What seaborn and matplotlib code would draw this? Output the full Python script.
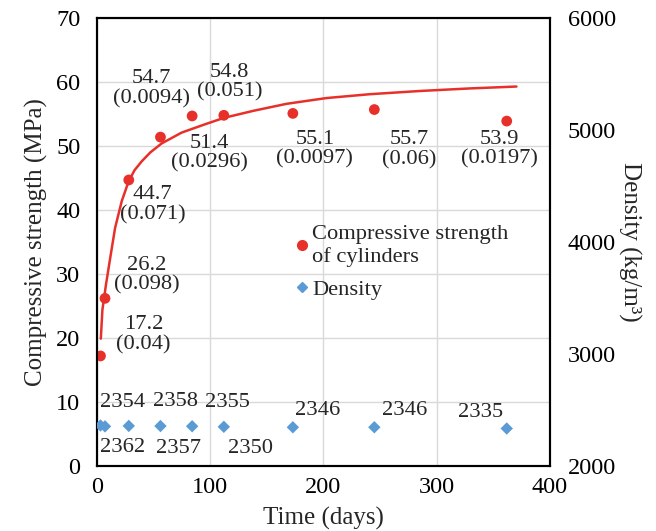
import matplotlib
matplotlib.use("Agg")
import matplotlib.pyplot as plt
import seaborn as sns
import pandas as pd
from matplotlib.lines import Line2D

# ---------------------------------------------------------------
# data
# ---------------------------------------------------------------
days = [3, 7, 28, 56, 84, 112, 173, 245, 362]
strength = [17.2, 26.2, 44.7, 51.4, 54.7, 54.8, 55.1, 55.7, 53.9]
strength_sd = ["0.04", "0.098", "0.071", "0.0296", "0.0094", "0.051", "0.0097", "0.06", "0.0197"]
density = [2362, 2354, 2358, 2357, 2355, 2350, 2346, 2346, 2335]

# trend line as drawn in the reference
trend_days = [3.3, 4.7, 7.9, 11.5, 15.9, 21.8, 27.7, 33, 39.4, 47, 57, 74.7, 95.4, 112,
              138, 167.5, 202.8, 241, 285, 329, 370.6]
trend_vals = [19.9, 24.4, 28.4, 32.4, 37.2, 41.4, 44.4, 46.2, 47.6, 49.0, 50.4, 52.1, 53.4, 54.4,
              55.5, 56.6, 57.5, 58.1, 58.6, 59.0, 59.3]

df = pd.DataFrame({"days": days, "strength": strength, "density": density})
trend = pd.DataFrame({"days": trend_days, "strength": trend_vals})

# label offsets in pixels (layout only)
str_offsets = [(43, 21), (42, 23), (24, -25), (49, -16), (-41, 27), (6, 33),
               (22, -36), (35, -40), (-7, -28)]
den_offsets = [(22, -22), (18, 24), (47, 24), (18, -22), (35, 24), (27, -22),
               (25, 17), (30, 17), (-26, 16)]

RED = "#E8302A"
BLUE = "#5B9BD5"

sns.set_style("white")
plt.rcParams["font.family"] = ["Liberation Serif", "DejaVu Serif"]

fig = plt.figure(figsize=(6.56, 5.31), dpi=100)
ax = fig.add_axes([0.148, 0.1224, 0.690, 0.8436])
ax2 = ax.twinx()

# strength
sns.lineplot(data=trend, x="days", y="strength", ax=ax, color=RED, lw=1.8, zorder=3)
sns.scatterplot(data=df, x="days", y="strength", ax=ax, color=RED, s=60,
                edgecolor="none", zorder=4)

# density
sns.scatterplot(data=df, x="days", y="density", ax=ax2, color=BLUE, marker="D", s=40,
                edgecolor="none", zorder=4)

ax.set_xlim(0, 400)
ax.set_ylim(0, 70)
ax2.set_ylim(2000, 6000)
ax.set_xticks([0, 100, 200, 300, 400])
ax.set_yticks(range(0, 71, 10))
ax2.set_yticks(range(2000, 6001, 1000))

ax.grid(True, color="#D9D9D9", lw=1)
ax.set_axisbelow(True)
ax2.grid(False)

for a in (ax, ax2):
    for sp in a.spines.values():
        sp.set_color("black")
        sp.set_linewidth(1.5)
        sp.set_visible(True)

ax.tick_params(axis="both", length=0, labelsize=17.5, colors="black", pad=8)
ax.tick_params(axis="y", pad=12)
ax2.tick_params(axis="y", length=0, labelsize=17.5, colors="black", pad=13)

ax.set_xlabel("Time (days)", fontsize=18, labelpad=6)
ax.set_ylabel("Compressive strength (MPa)", fontsize=18, labelpad=6)
ax2.set_ylabel("Density (kg/m³)", fontsize=18, rotation=270, labelpad=18)

# data labels
for d, v, sd, off in zip(days, strength, strength_sd, str_offsets):
    ax.annotate(f"{v}\n({sd})", (d, v), xytext=off, textcoords="offset pixels",
                ha="center", va="center", multialignment="center",
                fontsize=16.2, linespacing=1.05, zorder=5)

for d, v, off in zip(days, density, den_offsets):
    ax2.annotate(f"{v}", (d, v), xytext=off, textcoords="offset pixels",
                 ha="center", va="center", fontsize=16.2, zorder=5)

handles = [
    Line2D([], [], marker="o", ls="none", color=RED, markersize=7),
    Line2D([], [], marker="D", ls="none", color=BLUE, markersize=5.5),
]
ax2.legend(handles, ["Compressive strength\nof cylinders", "Density"],
           loc="upper left", bbox_to_anchor=(0.42, 0.558), frameon=False,
           fontsize=16.2, handlelength=0.5, handletextpad=0.2, labelspacing=0.55,
           borderaxespad=0)

fig.savefig("out.png", dpi=100)
